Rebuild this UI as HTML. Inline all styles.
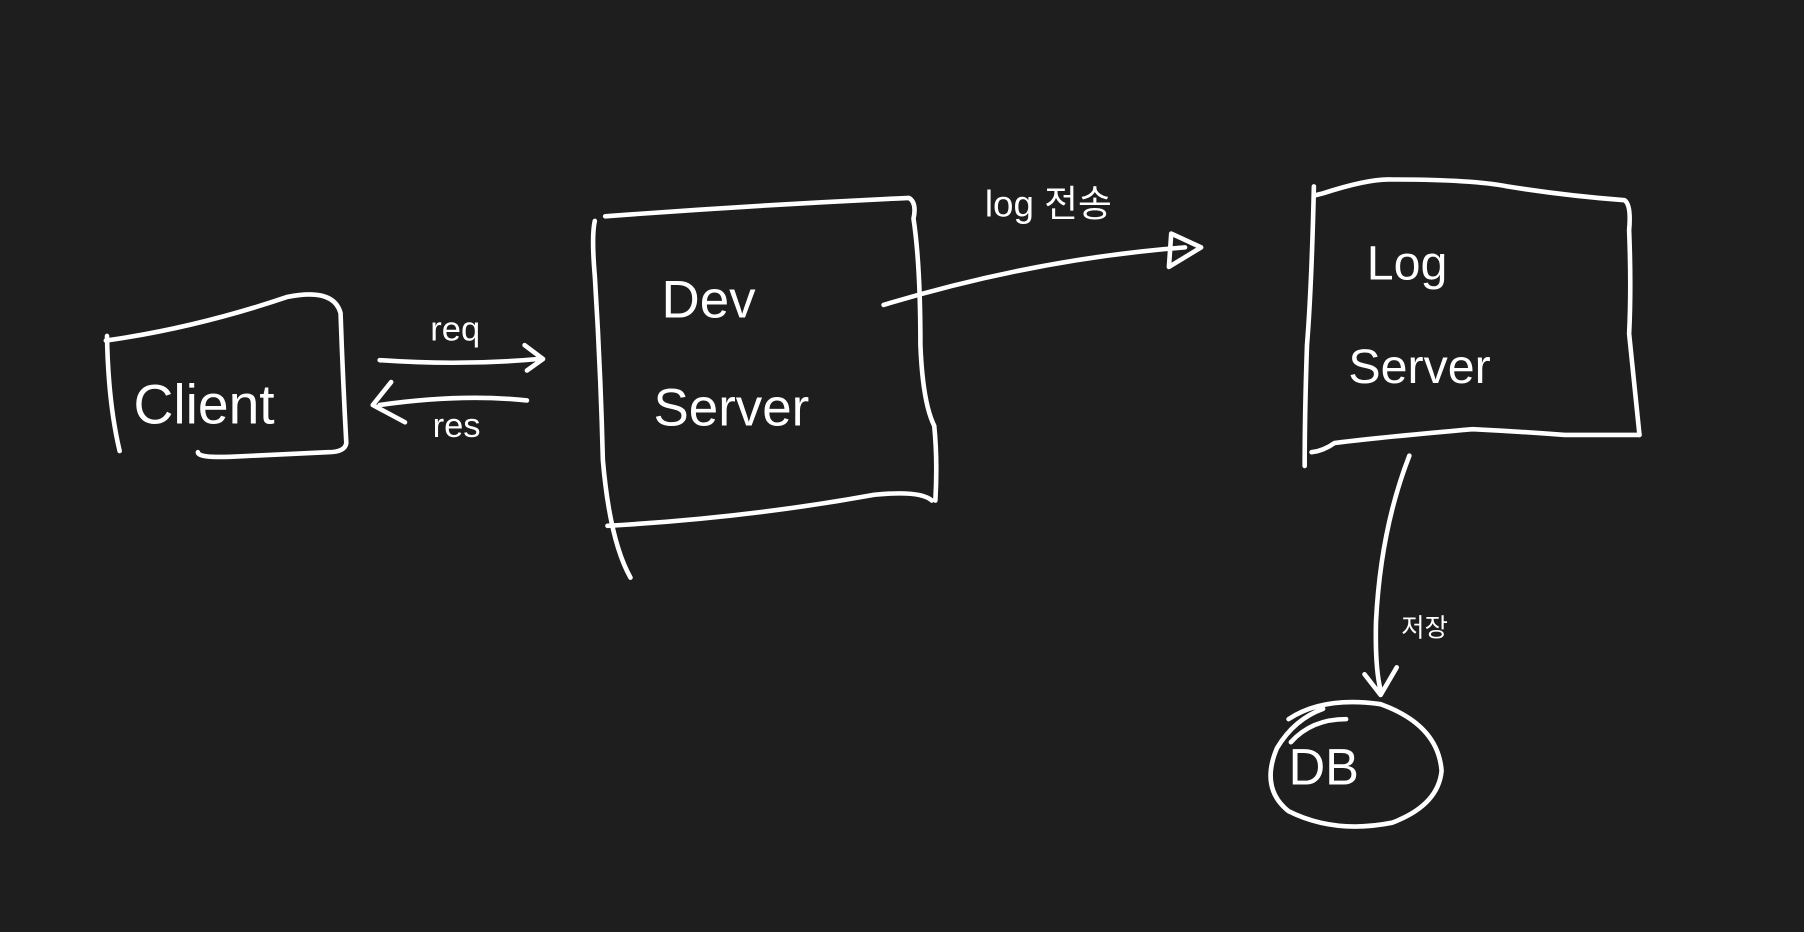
<!DOCTYPE html>
<html><head><meta charset="utf-8"><style>
html,body{margin:0;padding:0;background:#1e1e1e;}
svg{display:block;}
text{fill:#fff;font-family:"Liberation Sans","Noto Sans CJK KR",sans-serif;}
</style></head><body>
<svg width="1804" height="932" viewBox="0 0 1568 810" preserveAspectRatio="none" xmlns="http://www.w3.org/2000/svg">
<rect width="1568" height="810" fill="#1e1e1e"/>
<g fill="none" stroke="#fff" stroke-width="4" stroke-linecap="round" stroke-linejoin="round">
<!-- Client -->
<path d="M93,292 Q94,350 104,392"/>
<path d="M92,296 Q170,285 250,258 Q290,250 296,272 Q298,330 301,385 Q300,393 285,393 L200,397 Q172,398 172,393"/>
<!-- Dev Server -->
<path d="M526,188 Q660,178 790,172 Q797,176 794,190 Q800,230 800,300 Q802,350 812,370 Q815,400 813,435"/>
<path d="M517,192 Q514,205 517,240 Q522,320 524,400 Q530,470 548,502"/>
<path d="M528,457 Q650,450 760,430 Q800,426 810,435"/>
<!-- Log Server -->
<path d="M1142,162 Q1140,250 1136,300 Q1134,360 1134,405"/>
<path d="M1142,170 L1150,168 Q1190,155 1210,156 Q1280,156 1310,162 Q1360,170 1412,174 Q1418,178 1416,200 Q1418,250 1416,290 Q1420,330 1425,378"/>
<path d="M1140,393 Q1150,392 1160,385 Q1200,380 1280,373 Q1320,375 1360,378 L1425,378"/>
<!-- DB -->
<path d="M1120,625 Q1150,605 1200,612 Q1250,630 1253,670 Q1250,700 1210,715 Q1160,725 1120,705 Q1095,685 1110,650 Q1125,625 1150,616"/>
<path d="M1122,645 Q1140,625 1170,625"/>
<!-- req arrow -->
<path d="M330,313 Q400,318 468,312"/>
<path d="M456,300 L472,312 L458,322"/>
<!-- res arrow -->
<path d="M458,348 Q400,342 330,352"/>
<path d="M340,332 L324,352 L352,367"/>
<!-- log arrow -->
<path d="M768,265 Q900,225 1030,215"/>
<path d="M1018,203 L1016,232 L1044,215 Z"/>
<!-- down arrow -->
<path d="M1225,396 Q1200,460 1196,540 Q1195,580 1200,600"/>
<path d="M1186,586 L1200,604 L1214,580"/>
</g>
<text x="116" y="368" font-size="48">Client</text>
<text x="575" y="276" font-size="46">Dev</text>
<text x="568" y="370" font-size="46">Server</text>
<text x="1188" y="243" font-size="42">Log</text>
<text x="1172" y="333" font-size="42">Server</text>
<text x="1120" y="682" font-size="44">DB</text>
<text x="374" y="296" font-size="30">req</text>
<text x="376" y="380" font-size="30">res</text>
<text x="856" y="188" font-size="32">log 전송</text>
<text x="1218" y="553" font-size="22">저장</text>
</svg>
</body></html>
